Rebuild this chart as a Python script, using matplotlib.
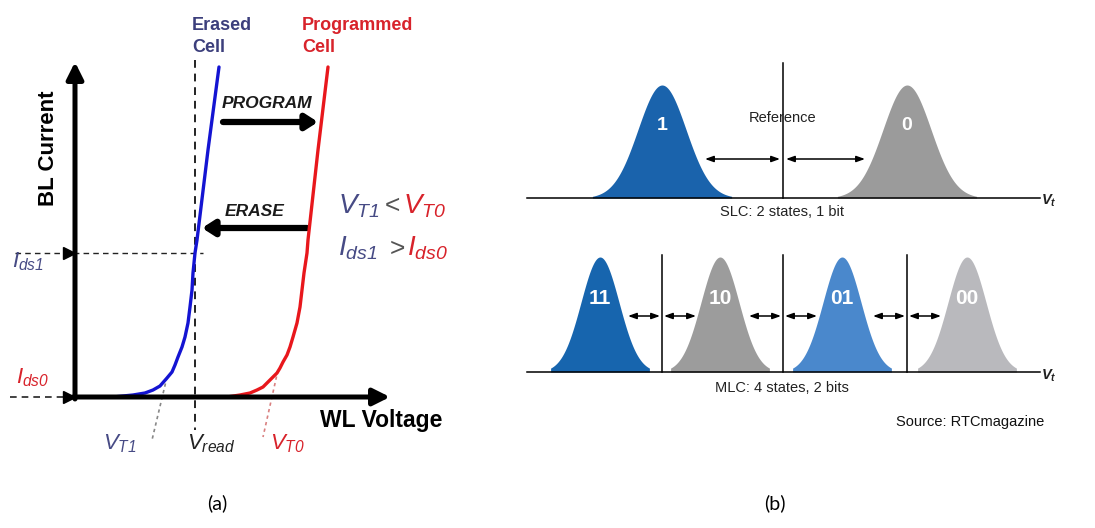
import numpy as np
import matplotlib
matplotlib.use('Agg')
import matplotlib.pyplot as plt

plt.rcParams['font.family'] = ['Liberation Sans', 'DejaVu Sans']
plt.rcParams['mathtext.fontset'] = 'custom'
plt.rcParams['mathtext.it'] = 'Liberation Sans:italic'
plt.rcParams['mathtext.rm'] = 'Liberation Sans:italic'
plt.rcParams['mathtext.bf'] = 'Liberation Sans:bold:italic'

# ---- panel (a): I-V curves (canvas units, y down) ----
erased_x = [100, 113, 123, 133, 145, 153, 160, 167, 172, 175, 178, 182, 185, 188,
            190, 192, 193, 195, 197, 208, 219]
erased_y = [397, 397, 396, 395, 393, 390, 386, 378, 372, 365, 357, 347, 337, 323,
            307, 290, 273, 253, 240, 150, 67]
programmed_x = [215, 227, 240, 250, 257, 263, 270, 277, 280, 283, 287, 290, 293,
                297, 300, 302, 304, 307, 308, 318, 328]
programmed_y = [397, 397, 395, 393, 390, 387, 380, 373, 368, 362, 355, 347, 337,
                323, 307, 290, 273, 253, 240, 150, 67]
axis_origin = (75, 397)
axis_ends = (390, 62)
v_read = 195
i_ds1 = 253
vt1_guide = ([167, 152], [377, 440])
vt0_guide = ([278, 263], [370, 437])

# ---- panel (b): threshold voltage distributions ----
slc_labels = ['1', '0']
slc_centers = [662, 907]
slc_colors = ['#1a63ac', '#9b9b9b']
slc_sigma = 24
slc_base = 198
slc_peak = 85
slc_reference = 783

mlc_labels = ['11', '10', '01', '00']
mlc_centers = [600, 720, 842, 967]
mlc_colors = ['#1765ae', '#9c9c9c', '#4a88cc', '#b9b9bd']
mlc_sigma = 19
mlc_base = 372
mlc_peak = 257
mlc_refs = [662, 783, 907]

NAVY = '#474b85'
RED = '#d8232b'
NARROW = ['Liberation Sans Narrow', 'Liberation Sans']


def bell(ax, center, sigma, base, peak, color, span):
    x = np.linspace(center - span * sigma, center + span * sigma, 200)
    h = (base - peak) * np.exp(-0.5 * ((x - center) / sigma) ** 2)
    ax.fill_between(x, base, base - h, color=color, lw=0, zorder=2)


def dbl_arrow(ax, x0, x1, y):
    ax.annotate('', xy=(x1, y), xytext=(x0, y),
                arrowprops=dict(arrowstyle='<|-|>,head_length=0.5,head_width=0.18',
                                lw=1.1, color='black', shrinkA=0, shrinkB=0), zorder=4)


def main():
    fig = plt.figure(figsize=(10.95, 5.28), dpi=100)
    ax = fig.add_axes([0, 0, 1, 1])
    ax.set_xlim(0, 1095)
    ax.set_ylim(528, 0)
    ax.axis('off')

    # axes of the I-V sketch
    ox, oy = axis_origin
    ax.annotate('', xy=(axis_ends[0], oy), xytext=(ox - 2, oy),
                arrowprops=dict(arrowstyle='-|>,head_length=1.0,head_width=0.5',
                                lw=3.6, color='black', shrinkA=0, shrinkB=0), zorder=5)
    ax.annotate('', xy=(ox, axis_ends[1]), xytext=(ox, oy + 2),
                arrowprops=dict(arrowstyle='-|>,head_length=1.0,head_width=0.5',
                                lw=3.6, color='black', shrinkA=0, shrinkB=0), zorder=5)

    # dashed guides
    ax.plot([v_read, v_read], [60, 430], ls=(0, (4, 3)), color='#222222', lw=1.4, zorder=3)
    ax.plot([15, 203], [i_ds1, i_ds1], ls=(0, (4, 3)), color='#222222', lw=1.0, zorder=3)
    ax.plot([10, ox], [oy, oy], ls=(0, (4, 3)), color='#222222', lw=1.2, zorder=3)
    ax.plot([ox - 6], [i_ds1], marker='>', ms=8, color='black', zorder=6)
    ax.plot([ox - 6], [oy], marker='>', ms=8, color='black', zorder=6)
    ax.plot(*vt1_guide, ls=(0, (2, 2)), color='#888888', lw=1.2, zorder=3)
    ax.plot(*vt0_guide, ls=(0, (2, 2)), color='#d98080', lw=1.2, zorder=3)

    # the two cell curves
    ax.plot(erased_x, erased_y, color='#1414d2', lw=2.4, zorder=4,
            solid_capstyle='round', solid_joinstyle='round')
    ax.plot(programmed_x, programmed_y, color='#e8171c', lw=2.4, zorder=4,
            solid_capstyle='round', solid_joinstyle='round')

    # program / erase arrows
    ax.annotate('', xy=(318, 122), xytext=(223, 122),
                arrowprops=dict(arrowstyle='-|>,head_length=0.7,head_width=0.45',
                                lw=4.5, color='black', shrinkA=0, shrinkB=0))
    ax.annotate('', xy=(202, 228), xytext=(307, 228),
                arrowprops=dict(arrowstyle='-|>,head_length=0.7,head_width=0.45',
                                lw=4.5, color='black', shrinkA=0, shrinkB=0))
    ax.text(222, 103, 'PROGRAM', fontsize=12.5, fontweight='bold', style='italic',
            ha='left', va='center', color='#1a1a1a')
    ax.text(225, 211, 'ERASE', fontsize=12.5, fontweight='bold', style='italic',
            ha='left', va='center', color='#1a1a1a')

    ax.text(192, 17, 'Erased\nCell', fontsize=13, fontweight='bold', color='#3c3f7c',
            ha='left', va='top', linespacing=1.35)
    ax.text(302, 17, 'Programmed\nCell', fontsize=13, fontweight='bold', color=RED,
            ha='left', va='top', linespacing=1.35)
    ax.text(49, 148, 'BL Current', fontsize=16, fontweight='bold', rotation=90,
            ha='center', va='center')
    ax.text(381, 421, 'WL Voltage', fontsize=16.5, fontweight='bold', ha='center', va='center')

    # relation text
    ax.text(338, 213, r'$V_{T1}$', fontsize=20, color=NAVY, ha='left', va='baseline')
    ax.text(385, 213, '<', fontsize=19, color='#555555', ha='left', va='baseline')
    ax.text(403, 213, r'$V_{T0}$', fontsize=20, color=RED, ha='left', va='baseline')
    ax.text(338, 256, r'$I_{ds1}$', fontsize=20, color=NAVY, ha='left', va='baseline')
    ax.text(390, 256, '>', fontsize=19, color='#555555', ha='left', va='baseline')
    ax.text(407, 256, r'$I_{ds0}$', fontsize=20, color=RED, ha='left', va='baseline')

    # axis value labels
    ax.text(12, 267, r'$I_{ds1}$', fontsize=16, color=NAVY, ha='left', va='baseline')
    ax.text(16, 383, r'$I_{ds0}$', fontsize=16, color=RED, ha='left', va='baseline')
    ax.text(103, 449, r'$V_{T1}$', fontsize=16, color=NAVY, ha='left', va='baseline')
    ax.text(187, 449, r'$V_{read}$', fontsize=16, color='#222222', ha='left', va='baseline')
    ax.text(270, 449, r'$V_{T0}$', fontsize=16, color=RED, ha='left', va='baseline')

    # ---- SLC ----
    for lab, c, col in zip(slc_labels, slc_centers, slc_colors):
        bell(ax, c, slc_sigma, slc_base, slc_peak, col, 2.9)
        ax.text(c, 125, lab, fontsize=14, fontweight='bold', color='white',
                ha='center', va='center', family=NARROW, zorder=5)
    ax.plot([527, 1040], [slc_base, slc_base], color='black', lw=1.1, zorder=3)
    ax.plot([slc_reference, slc_reference], [63, slc_base], color='black', lw=1.1, zorder=3)
    dbl_arrow(ax, 705, 780, 159)
    dbl_arrow(ax, 786, 865, 159)
    ax.text(slc_reference, 118, 'Reference', fontsize=10.5, family=NARROW, color='#222222',
            ha='center', va='center', zorder=5)
    ax.text(782, 212, 'SLC: 2 states, 1 bit', fontsize=10.5, family=NARROW, color='#222222',
            ha='center', va='center')
    ax.text(1041, 201, r'$\mathbf{V_t}$', fontsize=10.5, color='#222222', ha='left', va='center')

    # ---- MLC ----
    for lab, c, col in zip(mlc_labels, mlc_centers, mlc_colors):
        bell(ax, c, mlc_sigma, mlc_base, mlc_peak, col, 2.6)
        ax.text(c, 298, lab, fontsize=15, fontweight='bold', color='white',
                ha='center', va='center', family=NARROW, zorder=5)
    ax.plot([527, 1040], [mlc_base, mlc_base], color='black', lw=1.1, zorder=3)
    for r in mlc_refs:
        ax.plot([r, r], [255, mlc_base], color='black', lw=1.1, zorder=3)
        dbl_arrow(ax, r - 34, r - 2, 316)
        dbl_arrow(ax, r + 2, r + 34, 316)
    ax.text(782, 388, 'MLC: 4 states, 2 bits', fontsize=10.5, family=NARROW, color='#222222',
            ha='center', va='center')
    ax.text(1041, 376, r'$\mathbf{V_t}$', fontsize=10.5, color='#222222', ha='left', va='center')
    ax.text(896, 422, 'Source: RTCmagazine', fontsize=10.5, color='#111111',
            ha='left', va='center')

    # panel captions
    ax.text(217, 503, '(a)', fontsize=14, family=['Lato', 'DejaVu Sans'], ha='center', va='center')
    ax.text(775, 503, '(b)', fontsize=14, family=['Lato', 'DejaVu Sans'], ha='center', va='center')

    fig.savefig('out.png', dpi=100)


if __name__ == '__main__':
    main()
